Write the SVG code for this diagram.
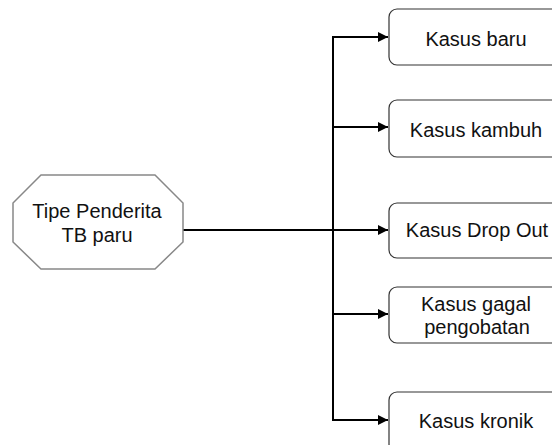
<svg xmlns="http://www.w3.org/2000/svg" width="552" height="445" viewBox="0 0 552 445">
<style>
.box{fill:#fff;stroke:#333;stroke-width:1.2}
.oct{fill:#fff;stroke:#888;stroke-width:1.5}
.t{font-family:"Liberation Sans",Arial,sans-serif;font-size:20px;fill:#111;text-anchor:middle}
.c{fill:none;stroke:#000;stroke-width:2}
</style>
<defs>
<marker id="ah" markerUnits="userSpaceOnUse" markerWidth="11" markerHeight="10" refX="10" refY="5" orient="auto">
<path d="M0,0 L10,5 L0,10 Z" fill="#000"/>
</marker>
</defs>
<rect width="552" height="445" fill="#fff"/>
<g id="connectors">
<path class="c" d="M183,230 H388" marker-end="url(#ah)"/>
<path class="c" d="M333,36 V421"/>
<path class="c" d="M332,37 H388" marker-end="url(#ah)"/>
<path class="c" d="M333,127 H388" marker-end="url(#ah)"/>
<path class="c" d="M333,314 H388" marker-end="url(#ah)"/>
<path class="c" d="M332,420 H388" marker-end="url(#ah)"/>
</g>
<g id="tipe">
<polygon class="oct" points="41,175 155,175 183,203 183,242 155,269 41,269 13,242 13,203"/>
<text class="t" x="97" y="218">Tipe Penderita</text>
<text class="t" x="97" y="242">TB paru</text>
</g>
<g id="baru">
<rect class="box" x="389" y="9" width="175" height="56" rx="8"/>
<text class="t" x="476" y="46">Kasus baru</text>
</g>
<g id="kambuh">
<rect class="box" x="389" y="100" width="175" height="57" rx="8"/>
<text class="t" x="476" y="137">Kasus kambuh</text>
</g>
<g id="dropout">
<rect class="box" x="389" y="203" width="175" height="55" rx="8"/>
<text class="t" x="477" y="237">Kasus Drop Out</text>
</g>
<g id="gagal">
<rect class="box" x="389" y="287" width="175" height="56" rx="8"/>
<text class="t" x="476" y="311">Kasus gagal</text>
<text class="t" x="477" y="334">pengobatan</text>
</g>
<g id="kronik">
<rect class="box" x="389" y="392" width="175" height="60" rx="8"/>
<text class="t" x="476" y="428">Kasus kronik</text>
</g>
</svg>
